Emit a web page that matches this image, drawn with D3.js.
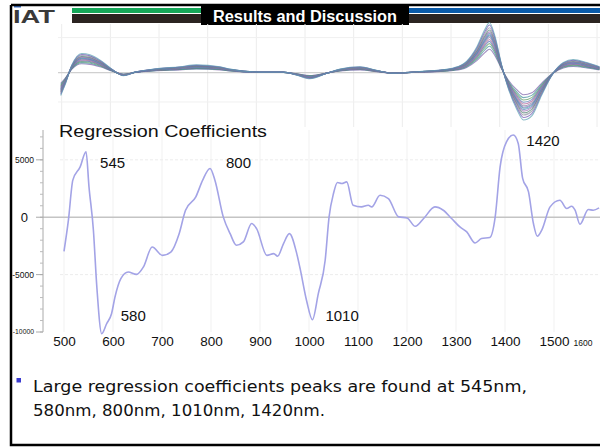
<!DOCTYPE html>
<html>
<head>
<meta charset="utf-8">
<script src="https://cdn.jsdelivr.net/npm/d3@7"></script>
<style>
  body { margin: 0; background: #fff; }
  svg { display: block; }
</style>
</head>
<body>
<script>
// slide texts
var slideTitle = "Results and Discussion";
var chartTitle = "Regression Coefficients";
var bulletLines = ["Large regression coefficients peaks are found at 545nm,",
                   "580nm, 800nm, 1010nm, 1420nm."];

// top panel: mean spectrum and gain of each spectrum
var topNm = [498, 507, 521, 541, 558, 579, 603, 627, 651, 688, 743, 777, 825, 846,
             914, 955, 983, 1010, 1045, 1072, 1113, 1147, 1181, 1236, 1271, 1305,
             1332, 1353, 1370, 1379, 1390, 1404, 1418, 1435, 1449, 1466, 1486,
             1510, 1531, 1551, 1579, 1605];
var topMean = [-0.38, -0.20, 0.13, 0.32, 0.30, 0.21, 0.06, -0.05, 0.01, 0.06, 0.10, 0.13, 0.10, 0.06,
               0.01, 0.01, -0.04, -0.10, -0.01, 0.06, 0.10, 0.04, -0.01, 0.02, 0.04, 0.08,
               0.19, 0.43, 0.73, 0.84, 0.62, 0.13, -0.27, -0.61, -0.79, -0.72, -0.38,
               -0.01, 0.17, 0.22, 0.17, 0.10];
var spectrumGain = [0.62, 0.7, 0.77, 0.83, 0.88, 0.93, 0.97, 1.0, 1.04, 1.08, 1.13, 1.19, 1.26, 1.33];
var spectrumColor = ["#7a5fa8", "#3f8f9a", "#5a9a5a", "#4a6fb0", "#b0609a", "#7a8a9a", "#8c60c0",
                     "#40a0a0", "#6080c0", "#a070b0", "#508070", "#9090a0", "#6a50b0", "#5aa0b0"];

// regression coefficients
var regNm = [500, 509, 518, 533, 545, 551, 560, 567, 577, 587, 597, 604, 616, 631, 648, 662, 680,
             701, 718, 735, 748, 769, 783, 798, 808, 825, 839, 852, 866, 883, 893, 914, 928,
             936, 948, 960, 975, 982, 995, 1007, 1019, 1033, 1041, 1050, 1058, 1067, 1077,
             1090, 1107, 1121, 1128, 1145, 1162, 1183, 1200, 1217, 1234, 1257, 1274, 1291,
             1308, 1322, 1339, 1352, 1369, 1380, 1390, 1403, 1417, 1427, 1436, 1448, 1458,
             1466, 1475, 1492, 1512, 1526, 1536, 1543, 1553, 1570, 1580, 1592];
var regCoef = [-2970, -260, 3230, 4390, 5700, 2650, -1130, -6080, -10150, -9280, -8410, -6960,
               -5350, -4770, -4980, -4340, -2590, -3320, -3030, -1430, 610, 1770, 3230, 4250,
               3230, 30, -1430, -2440, -2150, -550, -990, -3320, -3170, -3400, -2300, -1430,
               -3170, -4500, -7250, -8930, -6660, -3750, 30, 2070, 3030, 2940, 3080, 1050, 900,
               1050, 900, 1920, 1630, 30, -60, -790, -110, 900, 610, -110, -850, -1280, -2240,
               -1860, -1770, 30, 4390, 6570, 7160, 6430, 3380, 2210, -550, -1660, -1130, 900,
               1480, 760, 960, 610, -610, 670, 610, 810];

var xTicks = [500, 600, 700, 800, 900, 1000, 1100, 1200, 1300, 1400, 1500];
var yTicks = [5000, 0, -5000, -10000];
var peakNm = [545, 580, 800, 1010, 1420];

var W = 600, H = 447;
var svg = d3.select("body").append("svg").attr("width", W).attr("height", H);

// ---------- header ----------
svg.append("rect").attr("x", 72).attr("y", 14).attr("width", W - 72).attr("height", 9).attr("fill", "#2b2421");
svg.append("rect").attr("x", 72).attr("y", 8).attr("width", 130).attr("height", 5).attr("fill", "#16a85a");
svg.append("rect").attr("x", 408).attr("y", 8).attr("width", W - 408).attr("height", 5).attr("fill", "#0a5aa8");
svg.append("rect").attr("x", 201).attr("y", 4).attr("width", 208).attr("height", 21).attr("fill", "#000");
svg.append("text").attr("x", 305).attr("y", 21.5).attr("text-anchor", "middle")
  .attr("font-family", "Liberation Sans, Arial, sans-serif").attr("font-weight", "bold")
  .attr("font-size", 16).attr("fill", "#fff")
  .attr("textLength", 184).attr("lengthAdjust", "spacingAndGlyphs")
  .text(slideTitle);
svg.append("text").attr("x", 13).attr("y", 23)
  .attr("font-family", "Liberation Sans, Arial, sans-serif").attr("font-weight", "bold")
  .attr("font-size", 19).attr("fill", "#3a3a3a")
  .attr("textLength", 42).attr("lengthAdjust", "spacingAndGlyphs")
  .text("IAT");
svg.append("rect").attr("x", 14).attr("y", 6).attr("width", 7).attr("height", 1.5).attr("fill", "#3a6cc0");

// ---------- top spectra panel ----------
var xTop = d3.scaleLinear().domain([500, 1600]).range([61.7, 597]);
var yTop = d3.scaleLinear().domain([-1.2, 1.2]).range([126.7, 18.7]);

var topG = svg.append("g");
topG.selectAll("line.vg").data(d3.range(500, 1601, 100)).join("line")
  .attr("x1", function(d) { return xTop(d); }).attr("x2", function(d) { return xTop(d); })
  .attr("y1", 24).attr("y2", 127)
  .attr("stroke", "#ececec").attr("stroke-width", 1);
topG.selectAll("line.hg").data([0.78, -0.65]).join("line")
  .attr("x1", 58).attr("x2", W).attr("y1", function(d) { return yTop(d); }).attr("y2", function(d) { return yTop(d); })
  .attr("stroke", "#f0f0f0");
topG.append("line").attr("x1", 58).attr("x2", W).attr("y1", yTop(0)).attr("y2", yTop(0))
  .attr("stroke", "#d0d0d0").attr("stroke-width", 1.2);

var topLine = d3.line().curve(d3.curveMonotoneX)
  .x(function(d) { return xTop(d[0]); }).y(function(d) { return yTop(d[1]); });
spectrumGain.forEach(function(gain, i) {
  var pts = topNm.map(function(n, j) { return [n, topMean[j] * gain]; });
  topG.append("path").datum(pts).attr("d", topLine)
    .attr("fill", "none").attr("stroke", spectrumColor[i % spectrumColor.length])
    .attr("stroke-width", 1.1).attr("stroke-opacity", 0.7);
});

// ---------- regression coefficient chart ----------
var x = d3.scaleLinear().domain([500, 1600]).range([64, 603]);
var y = d3.scaleLinear().domain([-10000, 7600]).range([332, 130]);

var g = svg.append("g");
g.selectAll("line.vg").data(d3.range(500, 1601, 100)).join("line")
  .attr("x1", function(d) { return x(d); }).attr("x2", function(d) { return x(d); })
  .attr("y1", 130).attr("y2", 332).attr("stroke", "#f1f1f1");
g.selectAll("line.hg").data([5000, -5000]).join("line")
  .attr("x1", 60).attr("x2", W).attr("y1", function(d) { return y(d); }).attr("y2", function(d) { return y(d); })
  .attr("stroke", "#ececec").attr("stroke-dasharray", "3,2");
g.append("line").attr("x1", 43).attr("x2", W).attr("y1", y(0)).attr("y2", y(0))
  .attr("stroke", "#c4c4c4").attr("stroke-width", 1.6);

// y axis with minor ticks
var yAxisG = g.append("g").attr("transform", "translate(43,0)");
yAxisG.append("line").attr("y1", 130).attr("y2", y(-10000)).attr("stroke", "#aaa");
yAxisG.selectAll("line.minor").data(d3.range(-10000, 7001, 1000)).join("line")
  .attr("x1", -3).attr("x2", 0)
  .attr("y1", function(d) { return y(d); }).attr("y2", function(d) { return y(d); })
  .attr("stroke", "#bbb");
yAxisG.selectAll("line.major").data(yTicks).join("line")
  .attr("x1", -7).attr("x2", 0)
  .attr("y1", function(d) { return y(d); }).attr("y2", function(d) { return y(d); })
  .attr("stroke", "#aaa");
var ySize = { "5000": 8.5, "0": 13, "-5000": 8.5, "-10000": 6.8 };
yAxisG.selectAll("text").data(yTicks).join("text")
  .attr("x", function(d) { return d === 0 ? -15 : -9; })
  .attr("y", function(d) { return y(d); })
  .attr("dy", "0.35em").attr("text-anchor", "end")
  .attr("font-family", "Liberation Sans, Arial, sans-serif")
  .attr("font-size", function(d) { return ySize[d]; })
  .attr("fill", "#111")
  .text(function(d) { return d; });

// x axis labels
var xAxis = d3.axisBottom(x).tickValues(xTicks).tickFormat(d3.format("d")).tickSize(0).tickPadding(0);
var xAxisG = g.append("g").attr("transform", "translate(0,335)").call(xAxis);
xAxisG.select(".domain").remove();
xAxisG.selectAll("text").attr("font-family", "Liberation Sans, Arial, sans-serif")
  .attr("font-size", 13.5).attr("fill", "#111").attr("dy", "0.85em");
g.append("text").attr("x", x(1600) - 20).attr("y", 345.5).attr("text-anchor", "middle")
  .attr("font-family", "Liberation Sans, Arial, sans-serif").attr("font-size", 8.5).attr("fill", "#111")
  .text("1600");

// coefficient curve
var regPts = regNm.map(function(n, i) { return [n, regCoef[i]]; });
var regLine = d3.line().curve(d3.curveMonotoneX)
  .x(function(d) { return x(d[0]); }).y(function(d) { return y(d[1]); });
g.append("path").datum(regPts).attr("d", regLine)
  .attr("fill", "none").attr("stroke", "#a3a3e6").attr("stroke-width", 1.6);

// peak labels
var peakOff = { 545: [14, 16], 580: [19, -13], 800: [16, 0], 1010: [13, 1], 1420: [13, 11] };
peakNm.forEach(function(p) {
  var i = regNm.indexOf(d3.least(regNm, function(n) { return Math.abs(n - p); }));
  g.append("text")
    .attr("x", x(regNm[i]) + peakOff[p][0])
    .attr("y", y(regCoef[i]) + peakOff[p][1])
    .attr("font-family", "Liberation Sans, Arial, sans-serif").attr("font-size", 15).attr("fill", "#111")
    .text(p);
});

g.append("text").attr("x", 59).attr("y", 137)
  .attr("font-family", "Liberation Sans, Arial, sans-serif").attr("font-size", 17).attr("fill", "#111")
  .attr("textLength", 208).attr("lengthAdjust", "spacingAndGlyphs")
  .text(chartTitle);

// ---------- bullet ----------
svg.append("rect").attr("x", 16.5).attr("y", 378).attr("width", 4.5).attr("height", 4.5).attr("fill", "#3b3bd0");
var bLen = [494, 292];
bulletLines.forEach(function(t, i) {
  svg.append("text").attr("x", 33).attr("y", 392 + i * 23.5)
    .attr("font-family", "DejaVu Sans, Verdana, sans-serif").attr("font-size", 15.5).attr("fill", "#111")
    .attr("textLength", bLen[i]).attr("lengthAdjust", "spacingAndGlyphs")
    .text(t);
});

// slide frame
svg.append("path").attr("d", "M11,5 H" + W + " M11,5 V445 H" + W)
  .attr("fill", "none").attr("stroke", "#000").attr("stroke-width", 2.5);
</script>
</body>
</html>
